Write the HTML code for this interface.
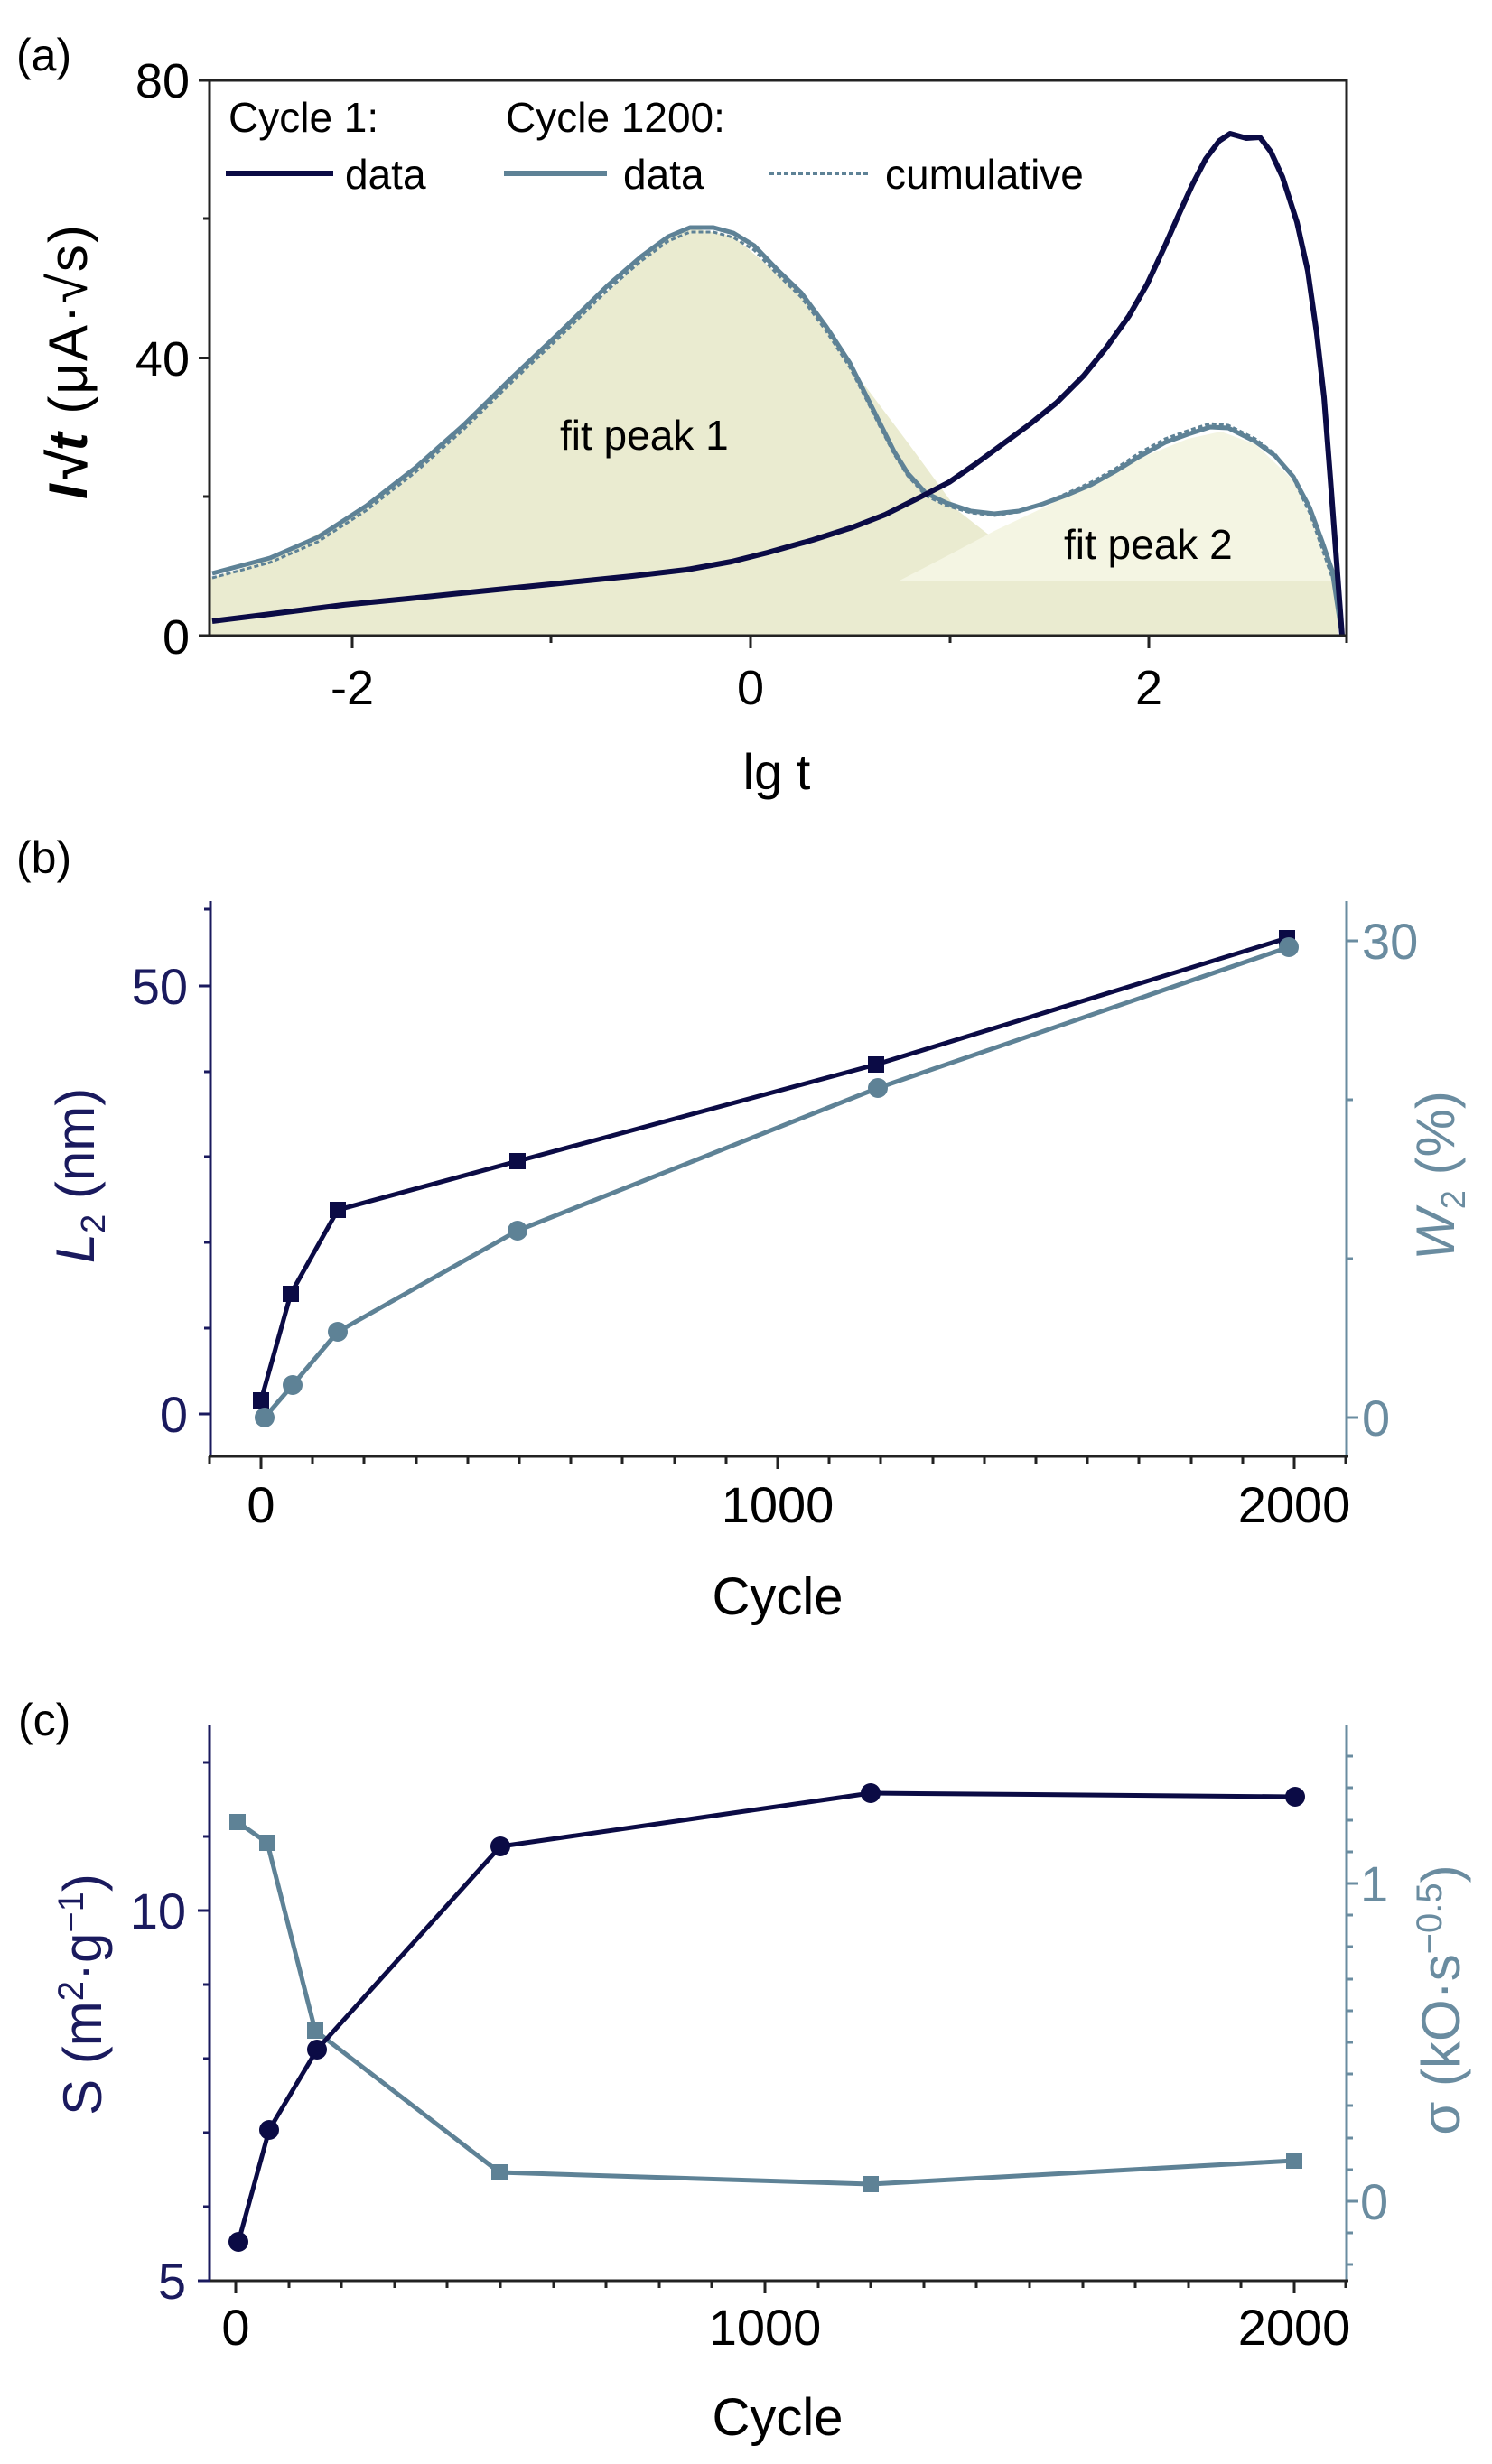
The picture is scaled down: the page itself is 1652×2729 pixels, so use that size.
<!DOCTYPE html>
<html><head><meta charset="utf-8"><style>
html,body{margin:0;padding:0;background:#fff;}
svg{display:block;}
text{font-family:"Liberation Sans",Arial,sans-serif;}
</style></head><body>
<svg width="1652" height="2729" viewBox="0 0 1652 2729" xmlns="http://www.w3.org/2000/svg">
<!-- ===== Panel (a) ===== -->
<text x="18" y="78" font-size="50">(a)</text>
<path d="M233,704 L233,640 L299,620 L406,562 L513,473 L620,370 L727,272 L764,252 L812,262 L887,325 L941,405 L1005,490 L1060,565 L1120,612 L1180,636 L1250,644 L1482,644 L1482,704 Z" fill="#eaebd0"/>
<path d="M994,644 L1050,615 L1101,588 L1160,560 L1218,530 L1261,508 L1315,486 L1352,478 L1390,492 L1432,532 L1464,600 L1482,640 L1482,644 Z" fill="#f4f5e3"/>
<polyline points="235,635 299,618 352,595 406,560 460,518 513,471 567,418 620,368 673,316 710,284 740,262 764,252 790,252 812,258 835,272 860,298 887,324 915,362 941,402 960,440 975,470 990,500 1005,524 1025,546 1048,557 1075,566 1101,569 1128,566 1155,558 1182,548 1208,537 1235,522 1261,506 1290,490 1315,481 1340,473 1360,474 1390,489 1412,505 1432,528 1450,562 1464,600 1475,632 1486,704" fill="none" stroke="#5e8296" stroke-width="5" stroke-linejoin="round"/>
<polyline points="235,640 299,623 352,600 406,565 460,523 513,476 567,423 620,373 673,321 710,289 740,267 764,257 790,257 812,263 835,277 860,303 887,329 915,367 941,407 960,444 975,474 990,503 1005,527 1025,549 1048,560 1075,568 1101,571 1128,567 1155,558 1182,546 1208,534 1235,519 1261,502 1290,486 1315,477 1340,469 1360,471 1390,486 1412,503 1432,530 1450,568 1464,608 1475,640" fill="none" stroke="#5e8296" stroke-width="3" stroke-dasharray="5,3"/>
<polyline points="235,688 300,680 380,670 452,663 540,654 630,645 700,638 760,631 810,622 850,612 900,598 944,584 980,570 1020,550 1051,534 1080,514 1110,492 1140,470 1170,446 1200,416 1225,385 1250,350 1270,315 1290,272 1305,238 1320,205 1335,176 1350,156 1362,148 1380,153 1395,152 1407,168 1420,196 1436,246 1448,300 1458,370 1466,440 1473,530 1479,610 1486,704" fill="none" stroke="#0b0b45" stroke-width="6" stroke-linejoin="round"/>
<rect x="232" y="89" width="1259" height="615" fill="none" stroke="#222" stroke-width="3"/>
<g stroke="#222" stroke-width="3">
<line x1="220" y1="89" x2="232" y2="89"/><line x1="220" y1="396.5" x2="232" y2="396.5"/><line x1="220" y1="704" x2="232" y2="704"/>
<line x1="225" y1="242" x2="232" y2="242"/><line x1="225" y1="550" x2="232" y2="550"/>
<line x1="390" y1="704" x2="390" y2="718"/><line x1="831" y1="704" x2="831" y2="718"/><line x1="1272" y1="704" x2="1272" y2="718"/>
<line x1="610" y1="704" x2="610" y2="712"/><line x1="1052" y1="704" x2="1052" y2="712"/><line x1="1491" y1="704" x2="1491" y2="712"/>
</g>
<g font-size="54" text-anchor="end">
<text x="210" y="108">80</text><text x="210" y="416">40</text><text x="210" y="724">0</text>
</g>
<g font-size="54" text-anchor="middle">
<text x="390" y="780">-2</text><text x="831" y="780">0</text><text x="1272" y="780">2</text>
<text x="860" y="874" font-size="56">lg t</text>
</g>
<text transform="translate(96,400) rotate(-90)" font-size="60" text-anchor="middle" letter-spacing="2"><tspan font-weight="bold" font-style="italic">I√t</tspan>   (μA·√s)</text>
<g font-size="46">
<text x="253" y="146">Cycle 1:</text>
<text x="560" y="146">Cycle 1200:</text>
<text x="382" y="209">data</text>
<text x="690" y="209">data</text>
<text x="980" y="209">cumulative</text>
<text x="620" y="498">fit peak 1</text>
<text x="1178" y="619">fit peak 2</text>
</g>
<line x1="250" y1="192" x2="369" y2="192" stroke="#0b0b45" stroke-width="6"/>
<line x1="558" y1="192" x2="672" y2="192" stroke="#5e8296" stroke-width="6"/>
<line x1="852" y1="192" x2="961" y2="192" stroke="#5e8296" stroke-width="4" stroke-dasharray="5,3"/>

<!-- ===== Panel (b) ===== -->
<text x="18" y="967" font-size="50">(b)</text>
<line x1="233" y1="998" x2="233" y2="1613" stroke="#1a1a5e" stroke-width="3"/>
<line x1="1491" y1="998" x2="1491" y2="1613" stroke="#6a8ca0" stroke-width="3"/>
<line x1="231" y1="1613" x2="1493" y2="1613" stroke="#222" stroke-width="3"/>
<g stroke="#1a1a5e" stroke-width="3">
<line x1="220" y1="1566" x2="233" y2="1566"/><line x1="220" y1="1092" x2="233" y2="1092"/>
<line x1="226" y1="1471" x2="233" y2="1471"/><line x1="226" y1="1376" x2="233" y2="1376"/><line x1="226" y1="1281" x2="233" y2="1281"/><line x1="226" y1="1187" x2="233" y2="1187"/><line x1="226" y1="1007" x2="233" y2="1007"/>
</g>
<g stroke="#6a8ca0" stroke-width="3">
<line x1="1491" y1="1570" x2="1504" y2="1570"/><line x1="1491" y1="1042" x2="1504" y2="1042"/>
<line x1="1491" y1="1394" x2="1498" y2="1394"/><line x1="1491" y1="1218" x2="1498" y2="1218"/>
</g>
<g stroke="#222" stroke-width="3">
<line x1="289" y1="1613" x2="289" y2="1627"/><line x1="861" y1="1613" x2="861" y2="1627"/><line x1="1433" y1="1613" x2="1433" y2="1627"/>
<line x1="346" y1="1613" x2="346" y2="1621"/><line x1="403" y1="1613" x2="403" y2="1621"/><line x1="461" y1="1613" x2="461" y2="1621"/><line x1="518" y1="1613" x2="518" y2="1621"/><line x1="575" y1="1613" x2="575" y2="1621"/><line x1="632" y1="1613" x2="632" y2="1621"/><line x1="689" y1="1613" x2="689" y2="1621"/><line x1="747" y1="1613" x2="747" y2="1621"/><line x1="804" y1="1613" x2="804" y2="1621"/>
<line x1="918" y1="1613" x2="918" y2="1621"/><line x1="975" y1="1613" x2="975" y2="1621"/><line x1="1033" y1="1613" x2="1033" y2="1621"/><line x1="1090" y1="1613" x2="1090" y2="1621"/><line x1="1147" y1="1613" x2="1147" y2="1621"/><line x1="1204" y1="1613" x2="1204" y2="1621"/><line x1="1261" y1="1613" x2="1261" y2="1621"/><line x1="1319" y1="1613" x2="1319" y2="1621"/><line x1="1376" y1="1613" x2="1376" y2="1621"/>
<line x1="232" y1="1613" x2="232" y2="1621"/><line x1="1490" y1="1613" x2="1490" y2="1621"/>
</g>
<g font-size="56" fill="#1a1a5e" text-anchor="end"><text x="208" y="1586">0</text><text x="208" y="1112">50</text></g>
<g font-size="56" fill="#6a8ca0"><text x="1508" y="1590">0</text><text x="1508" y="1062">30</text></g>
<g font-size="56" text-anchor="middle"><text x="289" y="1686">0</text><text x="861" y="1686">1000</text><text x="1433" y="1686">2000</text><text x="861" y="1788" font-size="58">Cycle</text></g>
<text transform="translate(104,1302) rotate(-90)" font-size="60" fill="#1a1a5e" text-anchor="middle"><tspan font-style="italic">L</tspan><tspan font-size="38" dy="12">2</tspan><tspan dy="-12"> (nm)</tspan></text>
<text transform="translate(1610,1302) rotate(-90)" font-size="60" fill="#6a8ca0" text-anchor="middle"><tspan font-style="italic">W</tspan><tspan font-size="38" dy="12">2</tspan><tspan dy="-12"> (%)</tspan></text>
<polyline points="293,1570 324,1534 374,1475 573,1363 972,1205 1427,1049" fill="none" stroke="#5e8296" stroke-width="5"/>
<polyline points="289,1551 322,1433 374,1340 573,1286 970,1179 1425,1039" fill="none" stroke="#0b0b45" stroke-width="5"/>
<g fill="#0b0b45"><rect x="280" y="1542" width="18" height="18"/><rect x="313" y="1424" width="18" height="18"/><rect x="365" y="1331" width="18" height="18"/><rect x="564" y="1277" width="18" height="18"/><rect x="961" y="1170" width="18" height="18"/><rect x="1416" y="1030" width="18" height="18"/></g>
<g fill="#5e8296"><circle cx="293" cy="1570" r="11"/><circle cx="324" cy="1534" r="11"/><circle cx="374" cy="1475" r="11"/><circle cx="573" cy="1363" r="11"/><circle cx="972" cy="1205" r="11"/><circle cx="1427" cy="1049" r="11"/></g>

<!-- ===== Panel (c) ===== -->
<text x="20" y="1922" font-size="50">(c)</text>
<line x1="232" y1="1910" x2="232" y2="2526" stroke="#1a1a5e" stroke-width="3"/>
<line x1="1491" y1="1910" x2="1491" y2="2526" stroke="#6a8ca0" stroke-width="3"/>
<line x1="230" y1="2526" x2="1493" y2="2526" stroke="#222" stroke-width="3"/>
<g stroke="#1a1a5e" stroke-width="3">
<line x1="219" y1="2526" x2="232" y2="2526"/><line x1="219" y1="2116" x2="232" y2="2116"/>
<line x1="225" y1="2444" x2="232" y2="2444"/><line x1="225" y1="2362" x2="232" y2="2362"/><line x1="225" y1="2280" x2="232" y2="2280"/><line x1="225" y1="2198" x2="232" y2="2198"/><line x1="225" y1="2034" x2="232" y2="2034"/><line x1="225" y1="1952" x2="232" y2="1952"/>
</g>
<g stroke="#6a8ca0" stroke-width="3">
<line x1="1491" y1="2438" x2="1504" y2="2438"/><line x1="1491" y1="2086" x2="1504" y2="2086"/>
<line x1="1491" y1="2508" x2="1498" y2="2508"/><line x1="1491" y1="2473" x2="1498" y2="2473"/><line x1="1491" y1="2403" x2="1498" y2="2403"/><line x1="1491" y1="2368" x2="1498" y2="2368"/><line x1="1491" y1="2332" x2="1498" y2="2332"/><line x1="1491" y1="2297" x2="1498" y2="2297"/><line x1="1491" y1="2262" x2="1498" y2="2262"/><line x1="1491" y1="2227" x2="1498" y2="2227"/><line x1="1491" y1="2192" x2="1498" y2="2192"/><line x1="1491" y1="2156" x2="1498" y2="2156"/><line x1="1491" y1="2121" x2="1498" y2="2121"/><line x1="1491" y1="2051" x2="1498" y2="2051"/><line x1="1491" y1="2016" x2="1498" y2="2016"/><line x1="1491" y1="1980" x2="1498" y2="1980"/><line x1="1491" y1="1945" x2="1498" y2="1945"/>
</g>
<g stroke="#222" stroke-width="3">
<line x1="261" y1="2526" x2="261" y2="2540"/><line x1="847" y1="2526" x2="847" y2="2540"/><line x1="1433" y1="2526" x2="1433" y2="2540"/>
<line x1="320" y1="2526" x2="320" y2="2534"/><line x1="378" y1="2526" x2="378" y2="2534"/><line x1="437" y1="2526" x2="437" y2="2534"/><line x1="495" y1="2526" x2="495" y2="2534"/><line x1="554" y1="2526" x2="554" y2="2534"/><line x1="613" y1="2526" x2="613" y2="2534"/><line x1="671" y1="2526" x2="671" y2="2534"/><line x1="730" y1="2526" x2="730" y2="2534"/><line x1="788" y1="2526" x2="788" y2="2534"/>
<line x1="906" y1="2526" x2="906" y2="2534"/><line x1="964" y1="2526" x2="964" y2="2534"/><line x1="1023" y1="2526" x2="1023" y2="2534"/><line x1="1081" y1="2526" x2="1081" y2="2534"/><line x1="1140" y1="2526" x2="1140" y2="2534"/><line x1="1199" y1="2526" x2="1199" y2="2534"/><line x1="1257" y1="2526" x2="1257" y2="2534"/><line x1="1316" y1="2526" x2="1316" y2="2534"/><line x1="1374" y1="2526" x2="1374" y2="2534"/>
<line x1="1490" y1="2526" x2="1490" y2="2534"/>
</g>
<g font-size="56" fill="#1a1a5e" text-anchor="end"><text x="206" y="2546">5</text><text x="206" y="2136">10</text></g>
<g font-size="56" fill="#6a8ca0"><text x="1506" y="2458">0</text><text x="1506" y="2106">1</text></g>
<g font-size="56" text-anchor="middle"><text x="261" y="2597">0</text><text x="847" y="2597">1000</text><text x="1433" y="2597">2000</text><text x="861" y="2697" font-size="58">Cycle</text></g>
<text transform="translate(112,2209) rotate(-90)" font-size="60" fill="#1a1a5e" text-anchor="middle">S (m<tspan font-size="40" dy="-20">2</tspan><tspan dy="20">·g</tspan><tspan font-size="40" dy="-20">−1</tspan><tspan dy="20">)</tspan></text>
<text transform="translate(1616,2215) rotate(-90)" font-size="60" fill="#6a8ca0" text-anchor="middle">σ (kO·s<tspan font-size="40" dy="-20">−0.5</tspan><tspan dy="20">)</tspan></text>
<polyline points="263,2018 296,2041 349,2249 553,2406 964,2419 1433,2393" fill="none" stroke="#5e8296" stroke-width="5"/>
<polyline points="264,2483 298,2359 351,2270 554,2045 964,1986 1434,1990" fill="none" stroke="#0b0b45" stroke-width="5"/>
<g fill="#5e8296"><rect x="254" y="2009" width="18" height="18"/><rect x="287" y="2032" width="18" height="18"/><rect x="340" y="2240" width="18" height="18"/><rect x="544" y="2397" width="18" height="18"/><rect x="955" y="2410" width="18" height="18"/><rect x="1424" y="2384" width="18" height="18"/></g>
<g fill="#0b0b45"><circle cx="264" cy="2483" r="11"/><circle cx="298" cy="2359" r="11"/><circle cx="351" cy="2270" r="11"/><circle cx="554" cy="2045" r="11"/><circle cx="964" cy="1986" r="11"/><circle cx="1434" cy="1990" r="11"/></g>
</svg>
</body></html>
